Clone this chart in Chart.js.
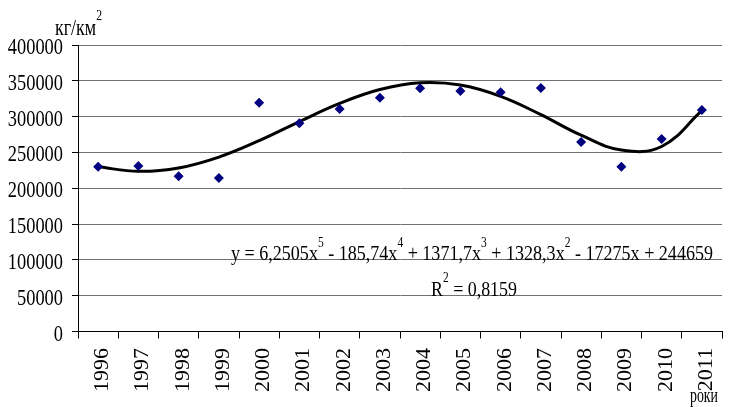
<!DOCTYPE html>
<html>
<head>
<meta charset="utf-8">
<script src="https://cdn.jsdelivr.net/npm/chart.js@4/dist/chart.umd.min.js"></script>
<style>
  html, body { margin: 0; padding: 0; background: #ffffff; }
  #wrap { width: 729px; height: 407px; }
</style>
</head>
<body>
<div id="wrap"><canvas id="c" width="729" height="407"></canvas></div>
<script>
// Years along the horizontal axis
const years = ['1996','1997','1998','1999','2000','2001','2002','2003',
               '2004','2005','2006','2007','2008','2009','2010','2011'];

// Observed density, kg per square km
const observed = [230000, 231000, 216700, 214300, 319400, 290600, 310600, 326400,
                  339500, 335700, 333900, 340000, 264500, 230000, 268700, 309200];

// Polynomial trend (5th degree) at each year
const trend = [229900, 223600, 228300, 243500, 266400, 293000, 318400, 337800,
               347200, 344100, 328300, 302800, 274000, 253400, 258300, 308300];

// Value axis ticks
const yTicks = [0, 50000, 100000, 150000, 200000, 250000, 300000, 350000, 400000];

const SERIF = '"Liberation Serif", "Times New Roman", serif';

// Draws text made of [string, isSuperscript] pieces, squeezed horizontally
function drawRich(ctx, parts, x, y, opts) {
  const size = opts.size, supSize = opts.supSize, raise = opts.raise;
  ctx.save();
  ctx.fillStyle = '#000';
  ctx.textBaseline = 'alphabetic';
  ctx.textAlign = 'left';
  let w = 0;
  parts.forEach(p => {
    ctx.font = (p[1] ? supSize : size) + 'px ' + SERIF;
    w += ctx.measureText(p[0]).width;
  });
  const sx = opts.width ? opts.width / w : opts.scaleX;
  ctx.translate(x, y);
  ctx.scale(sx, 1);
  let cx = 0;
  parts.forEach(p => {
    ctx.font = (p[1] ? supSize : size) + 'px ' + SERIF;
    ctx.fillText(p[0], cx, p[1] ? -raise : 0);
    cx += ctx.measureText(p[0]).width;
  });
  ctx.restore();
}

const labelsPlugin = {
  id: 'labels',
  afterDraw(chart) {
    const ctx = chart.ctx;
    const xs = chart.scales.x, ys = chart.scales.y;

    // value axis labels, right-aligned
    ctx.save();
    ctx.fillStyle = '#000';
    ctx.font = '23px ' + SERIF;
    ctx.textAlign = 'right';
    ctx.textBaseline = 'alphabetic';
    yTicks.forEach(v => {
      const py = ys.getPixelForValue(v);
      ctx.save();
      ctx.translate(63, py + 9);
      ctx.scale(0.8, 1);
      ctx.fillText(v.toString(), 0, 0);
      ctx.restore();
    });
    ctx.restore();

    // year labels, rotated
    ctx.save();
    ctx.fillStyle = '#000';
    ctx.font = '22px ' + SERIF;
    ctx.textAlign = 'right';
    ctx.textBaseline = 'alphabetic';
    years.forEach((yr, i) => {
      const px = xs.getPixelForValue(i);
      ctx.save();
      ctx.translate(px + 10, 348);
      ctx.rotate(-Math.PI / 2);
      ctx.fillText(yr, 0, 0);
      ctx.restore();
    });
    ctx.restore();

    // unit title
    drawRich(ctx, [['кг/км', 0], ['2', 1]], 55, 35,
      { size: 23, supSize: 15, raise: 15, scaleX: 0.78 });

    // axis name
    drawRich(ctx, [['роки', 0]], 690, 402,
      { size: 21, supSize: 14, raise: 12, width: 28 });

    // trend equation and fit quality
    drawRich(ctx, [['y = 6,2505x', 0], ['5', 1], [' - 185,74x', 0], ['4', 1],
                   [' + 1371,7x', 0], ['3', 1], [' + 1328,3x', 0], ['2', 1],
                   [' - 17275x + 244659', 0]], 231, 259.5,
      { size: 22, supSize: 14, raise: 13, width: 482 });
    drawRich(ctx, [['R', 0], ['2', 1], [' = 0,8159', 0]], 431, 296,
      { size: 22, supSize: 14, raise: 14, width: 86 });
  }
};

new Chart(document.getElementById('c'), {
  type: 'line',
  data: {
    labels: years,
    datasets: [
      {
        label: 'trend',
        data: trend,
        borderColor: '#000000',
        borderWidth: 3,
        pointRadius: 0,
        tension: 0.4,
        fill: false,
        order: 2
      },
      {
        label: 'observed',
        data: observed,
        showLine: false,
        pointStyle: 'rectRot',
        pointRadius: 5,
        pointBackgroundColor: '#000080',
        pointBorderColor: '#000080',
        pointBorderWidth: 0,
        order: 1
      }
    ]
  },
  options: {
    responsive: false,
    animation: false,
    devicePixelRatio: 1,
    layout: { padding: { top: 45, right: 7, left: 0, bottom: 0 } },
    plugins: { legend: { display: false }, tooltip: { enabled: false } },
    scales: {
      x: {
        type: 'category',
        offset: true,
        ticks: { display: false },
        grid: {
          offset: true,
          drawOnChartArea: false,
          drawTicks: true,
          tickLength: 7,
          tickColor: '#000000',
          color: '#000000'
        },
        border: { display: true, color: '#000000', width: 1 },
        afterFit(s) { s.height = 75.5; }
      },
      y: {
        min: 0,
        max: 400000,
        ticks: { display: false, stepSize: 50000 },
        grid: {
          color: '#707070',
          lineWidth: 1,
          drawTicks: true,
          tickLength: 6,
          tickColor: '#000000'
        },
        border: { display: true, color: '#000000', width: 1 },
        afterFit(s) { s.width = 78; }
      }
    }
  },
  plugins: [labelsPlugin]
});
</script>
</body>
</html>
